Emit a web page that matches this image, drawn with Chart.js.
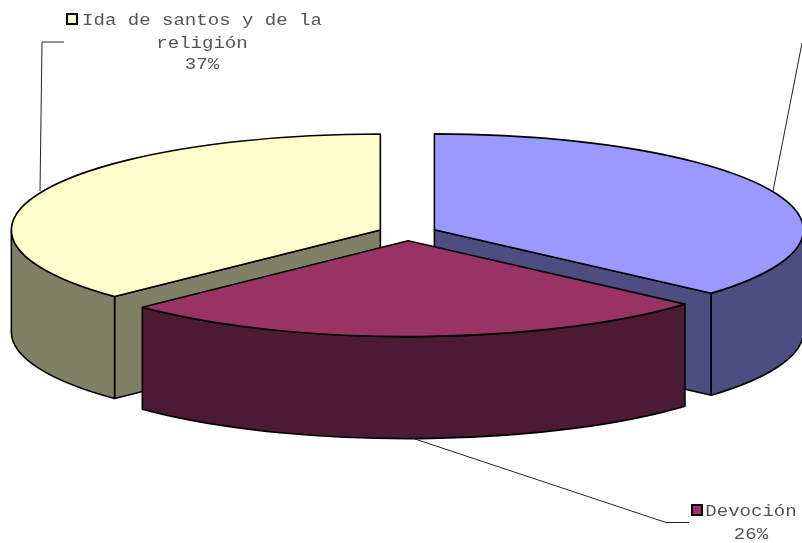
<!DOCTYPE html>
<html>
<head>
<meta charset="utf-8">
<title>Pie 3D</title>
<script src="https://cdn.jsdelivr.net/npm/chart.js@4"></script>
<style>
    html, body { margin: 0; padding: 0; background: #fff; overflow: hidden; }
    canvas { display: block; }
</style>
</head>
<body>
<canvas id="pieChart" width="802" height="543"></canvas>
<script>
// the first category's label falls outside the picture, only its leader line shows
const categorias = ['', 'Devoción', 'Ida de santos y de la religión'];
const valores = [36.5, 26.3, 37.2];
const coloresTapa = ['#9999ff', '#993366', '#ffffcc'];
const coloresLado = ['#4d4d80', '#4d1a33', '#808066'];

// perspective of the fake 3D
const aplastado = 0.26;
const profundidad = 102;
const separacion = 29.5;

const etiquetas = [
    {lineas: ['Ida de santos y de la', 'religión', '37%'], x: 202, y: [25, 48, 69], cuadro: [67, 14], color: '#ffffcc'},
    {lineas: ['Devoción', '26%'], x: 751, y: [516, 539], cuadro: [692, 505], color: '#993366'}
];
const guias = [
    [[802, 43], [773, 191]],
    [[64, 42], [42, 42], [40, 191]],
    [[412, 438], [666, 522.5], [689, 522.5]]
];

function geometria(arc) {
    const medio = (arc.startAngle + arc.endAngle) / 2;
    return {
        x: arc.x + Math.cos(medio) * separacion,
        y: arc.y + Math.sin(medio) * separacion * aplastado,
        rx: arc.outerRadius,
        ry: arc.outerRadius * aplastado,
        ini: arc.startAngle,
        fin: arc.endAngle
    };
}

function pintar(ctx, color) {
    ctx.fillStyle = color;
    ctx.fill();
    ctx.stroke();
}

function pared(ctx, g, angulo, color) {
    const px = g.x + Math.cos(angulo) * g.rx;
    const py = g.y + Math.sin(angulo) * g.ry;
    ctx.beginPath();
    ctx.moveTo(g.x, g.y);
    ctx.lineTo(px, py);
    ctx.lineTo(px, py + profundidad);
    ctx.lineTo(g.x, g.y + profundidad);
    ctx.closePath();
    pintar(ctx, color);
}

function lados(ctx, g, color) {
    // the cut faces only show when they look towards the viewer
    if (Math.cos(g.ini) < -0.001) pared(ctx, g, g.ini, color);
    if (Math.cos(g.fin) > 0.001) pared(ctx, g, g.fin, color);

    const a0 = Math.max(g.ini, 0);
    const a1 = Math.min(g.fin, Math.PI);
    if (a1 > a0) {
        ctx.beginPath();
        ctx.ellipse(g.x, g.y + profundidad, g.rx, g.ry, 0, a0, a1);
        ctx.ellipse(g.x, g.y, g.rx, g.ry, 0, a1, a0, true);
        ctx.closePath();
        pintar(ctx, color);
    }
}

const pie3d = {
    id: 'pie3d',
    beforeDatasetsDraw(chart) {
        const ctx = chart.ctx;
        const arcos = chart.getDatasetMeta(0).data;
        const orden = arcos.map((arc, i) => i).sort((a, b) => {
            return geometria(arcos[a]).y - geometria(arcos[b]).y;
        });

        ctx.save();
        ctx.strokeStyle = '#000';
        ctx.lineWidth = 1.6;
        ctx.lineJoin = 'round';
        orden.forEach(i => lados(ctx, geometria(arcos[i]), coloresLado[i]));

        orden.forEach(i => {
            const arc = arcos[i];
            const g = geometria(arc);
            ctx.save();
            ctx.translate(g.x, g.y);
            ctx.scale(1, aplastado);
            ctx.translate(-arc.x, -arc.y);
            arc.draw(ctx);
            ctx.restore();

            ctx.beginPath();
            ctx.moveTo(g.x, g.y);
            ctx.ellipse(g.x, g.y, g.rx, g.ry, 0, g.ini, g.fin);
            ctx.closePath();
            ctx.stroke();
        });
        ctx.restore();
        return false;
    },
    afterDraw(chart) {
        const ctx = chart.ctx;
        ctx.save();
        ctx.strokeStyle = '#222';
        ctx.lineWidth = 1;
        guias.forEach(puntos => {
            ctx.beginPath();
            puntos.forEach((p, i) => i ? ctx.lineTo(p[0], p[1]) : ctx.moveTo(p[0], p[1]));
            ctx.stroke();
        });

        ctx.font = '16px "Liberation Mono"';
        ctx.textAlign = 'center';
        ctx.textBaseline = 'alphabetic';
        etiquetas.forEach(e => {
            ctx.fillStyle = e.color;
            ctx.strokeStyle = '#000';
            ctx.lineWidth = 2;
            ctx.fillRect(e.cuadro[0], e.cuadro[1], 10, 10);
            ctx.strokeRect(e.cuadro[0], e.cuadro[1], 10, 10);

            ctx.fillStyle = '#555';
            e.lineas.forEach((texto, i) => {
                ctx.save();
                ctx.translate(e.x, e.y[i]);
                ctx.scale(1.19, 1);
                ctx.fillText(texto, 0, 0);
                ctx.restore();
            });
        });
        ctx.restore();
    }
};

new Chart(document.getElementById('pieChart').getContext('2d'), {
    type: 'pie',
    data: {
        labels: categorias,
        datasets: [{
            data: valores,
            backgroundColor: coloresTapa,
            borderWidth: 0
        }]
    },
    options: {
        responsive: false,
        animation: false,
        radius: 369,
        layout: {padding: {left: 13, bottom: 77}},
        plugins: {
            legend: {display: false},
            tooltip: {enabled: false}
        }
    },
    plugins: [pie3d]
});
</script>
</body>
</html>
